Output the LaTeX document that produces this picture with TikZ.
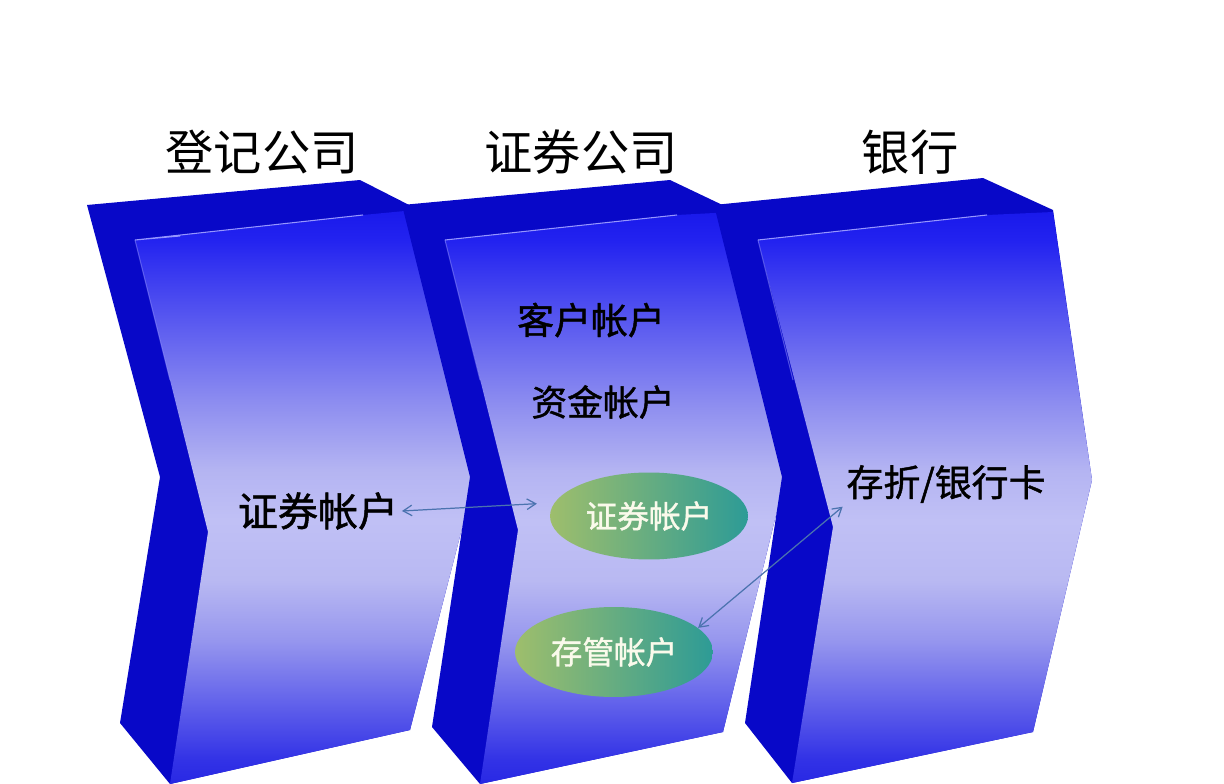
\documentclass[tikz,border=0pt]{standalone}
\usepackage{fontspec}
\setmainfont{Noto Sans CJK SC}
\newfontfamily\semibold{Noto Sans CJK SC}[FakeBold=1.2]
\usetikzlibrary{shapes.geometric,arrows.meta}

\definecolor{sideblue}{RGB}{8,8,200}
\definecolor{rimblue}{RGB}{150,150,255}
\definecolor{linkblue}{RGB}{75,115,175}
\definecolor{ovalleft}{RGB}{158,190,108}
\definecolor{ovalright}{RGB}{45,155,150}
\definecolor{ovaltext}{RGB}{250,250,235}
\definecolor{fa}{RGB}{40,40,228}
\definecolor{fb}{RGB}{50,50,230}
\definecolor{fc}{RGB}{100,100,235}
\definecolor{fd}{RGB}{150,150,238}
\definecolor{fe}{RGB}{185,185,242}
\definecolor{ff}{RGB}{192,192,245}
\definecolor{fg}{RGB}{180,180,242}
\definecolor{fh}{RGB}{140,140,240}
\definecolor{fi}{RGB}{75,75,240}
\definecolor{fj}{RGB}{35,35,240}
\definecolor{fk}{RGB}{25,25,235}
\pgfdeclareverticalshading{facegrad}{100bp}{color(0bp)=(fa); color(25bp)=(fa); color(27.1bp)=(fb); color(32.3bp)=(fc); color(37.5bp)=(fd); color(42.8bp)=(fe); color(48bp)=(ff); color(52.4bp)=(fg); color(58.4bp)=(fh); color(67.2bp)=(fi); color(72.4bp)=(fj); color(75bp)=(fk); color(100bp)=(fk)}

\begin{document}
\begin{tikzpicture}[x=0.02cm,y=-0.02cm,>={Straight Barb[length=5pt,width=6pt]},
    headtext/.style={font=\fontsize{27.5}{30}\selectfont,inner sep=2pt},
    acct/.style={font=\semibold\fontsize{21}{24}\selectfont,inner sep=2pt},
    oval/.style={ellipse,minimum width=3.96cm,minimum height=1.74cm,inner sep=0pt,left color=ovalleft,right color=ovalright,text=ovaltext,font=\semibold\fontsize{18}{20}\selectfont},
    linkarrow/.style={<->,draw=linkblue,line width=0.7pt},
    rim/.style={draw=rimblue,line width=0.6pt}]
    \useasboundingbox (0,0) rectangle (1224,784);

    % registration company block
    \fill[sideblue] (87,205) -- (360,180) -- (415,208) -- (475,478) -- (410,730) -- (170,784) -- (120,723) -- (160,477) -- cycle;
    \shade[shading=facegrad] (135,240) -- (363,215) -- (415,210) -- (475,478) -- (410,730) -- (170,784) -- (208,532) -- cycle;
    \draw[rim] (180,236) -- (135,240) -- (363,215);
    \draw[rim,opacity=0.5] (135,240) -- (170,380);

    % securities company block
    \fill[sideblue] (402,205) -- (670,180) -- (733,210) -- (785,478) -- (723,732) -- (480,784) -- (432,727) -- (470,477) -- cycle;
    \shade[shading=facegrad] (445,240) -- (677,215) -- (733,212) -- (785,478) -- (723,732) -- (480,784) -- (518,530) -- cycle;
    \draw[rim] (445,240) -- (677,215);
    \draw[rim,opacity=0.5] (445,240) -- (480,380);

    % bank block
    \fill[sideblue] (714,205) -- (983,178) -- (1053,210) -- (1092,480) -- (1033,732) -- (792,783) -- (745,723) -- (782,477) -- cycle;
    \shade[shading=facegrad] (758,240) -- (987,215) -- (1053,212) -- (1092,480) -- (1033,732) -- (792,783) -- (833,527) -- cycle;
    \draw[rim] (758,240) -- (987,215);
    \draw[rim,opacity=0.5] (758,240) -- (793,380);

    % titles
    \node[headtext] (reg) at (262,152) {登记公司};
    \node[headtext] (sec) at (581,152) {证券公司};
    \node[headtext] (bank) at (910,152) {银行};

    % accounts
    \node[acct,font=\semibold\fontsize{22.8}{26}\selectfont] (zq1) at (318,511) {证券帐户};
    \node[acct] (kh) at (591,320) {客户帐户};
    \node[acct,font=\semibold\fontsize{20.4}{24}\selectfont] (zj) at (603,402) {资金帐户};
    \node[oval] (zq2) at (649,516) {证券帐户};
    \node[oval,minimum height=1.8cm] (cg) at (614,652) {存管帐户};
    \node[acct] (czk) at (946,484) {存折/银行卡};

    \draw[linkarrow,shorten >=0.35cm] (zq1.east) -- (zq2.172);
    \draw[linkarrow] (cg.16) -- (czk.south west);
\end{tikzpicture}
\end{document}
